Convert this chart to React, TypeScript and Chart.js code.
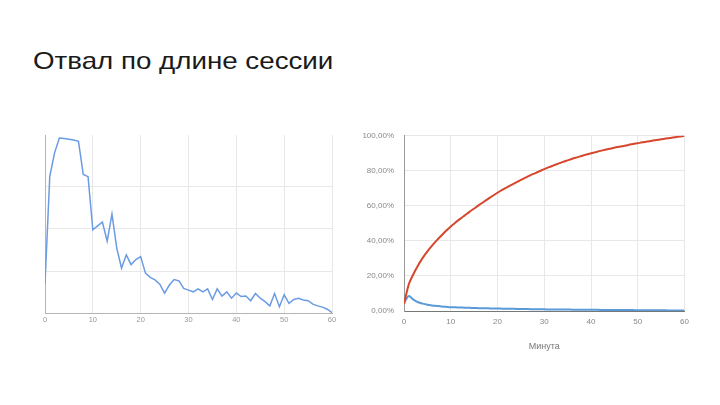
import React, { useEffect, useRef } from "react";
import { Chart, registerables } from "chart.js";

Chart.register(...registerables);

// minutes 0..60 (category positions)
const minutes = Array.from({ length: 61 }, (_, i) => i);

// left chart: sessions ending at each minute (unlabelled axis)
const leftCounts = [
  70, 323, 378, 413, 412, 410, 408, 405, 327, 322,
  197, 206, 215, 170, 234, 154, 107, 138, 115, 127,
  134, 95, 85, 79, 69, 48, 67, 80, 77, 59,
  55, 51, 58, 51, 58, 33, 58, 41, 51, 36,
  48, 40, 41, 30, 47, 36, 28, 18, 47, 16,
  44, 24, 33, 36, 32, 30, 22, 18, 15, 10,
  2,
];

// right chart: cumulative share (red), per-minute share (blue), in %
const cumulativeShare = [
  4.0, 15.0, 21.0, 26.0, 30.3, 34.0, 37.3, 40.3, 43.1, 45.8,
  48.3, 50.5, 52.6, 54.6, 56.6, 58.5, 60.4, 62.2, 64.0, 65.8,
  67.5, 69.1, 70.6, 72.0, 73.4, 74.8, 76.1, 77.4, 78.6, 79.8,
  81.0, 82.1, 83.1, 84.1, 85.1, 86.0, 86.9, 87.7, 88.5, 89.3,
  90.0, 90.7, 91.4, 92.0, 92.6, 93.2, 93.7, 94.2, 94.8, 95.3,
  95.8, 96.3, 96.7, 97.2, 97.6, 98.0, 98.4, 98.8, 99.2, 99.6,
  100.0,
];
const minuteShare = [
  4.5, 8.5, 6.5, 5.0, 4.2, 3.6, 3.2, 2.9, 2.6, 2.4,
  2.2, 2.1, 2.0, 1.9, 1.8, 1.7, 1.6, 1.55, 1.5, 1.45,
  1.4, 1.35, 1.3, 1.25, 1.2, 1.15, 1.1, 1.05, 1.0, 0.97,
  0.94, 0.91, 0.88, 0.85, 0.82, 0.8, 0.77, 0.74, 0.72, 0.7,
  0.68, 0.66, 0.64, 0.62, 0.6, 0.58, 0.56, 0.54, 0.52, 0.5,
  0.48, 0.46, 0.44, 0.42, 0.4, 0.38, 0.36, 0.34, 0.32, 0.3,
  0.28,
];

const xTickValues = [0, 10, 20, 30, 40, 50, 60];
const leftGridValues = [0, 100, 200, 300];
const pctTickValues = [0, 20, 40, 60, 80, 100];

const FONT = "'Liberation Sans', Arial, sans-serif";
const GRID = "#e8e8e8";

const toPoints = (ys: number[]) => ys.map((y, i) => ({ x: minutes[i], y }));

function LeftChart() {
  const ref = useRef<HTMLCanvasElement>(null);

  useEffect(() => {
    if (!ref.current) return;
    const chart = new Chart(ref.current, {
      type: "line",
      data: {
        datasets: [
          {
            data: toPoints(leftCounts),
            borderColor: "#6b9be3",
            borderWidth: 1.5,
            pointRadius: 0,
            tension: 0,
          },
        ],
      },
      options: {
        responsive: true,
        maintainAspectRatio: false,
        animation: false,
        layout: { padding: { left: 5, right: 8, top: 5, bottom: 2.5 } },
        plugins: { legend: { display: false }, tooltip: { enabled: false } },
        scales: {
          x: {
            type: "linear",
            min: 0,
            max: 60,
            afterBuildTicks: (s: any) => {
              s.ticks = xTickValues.map((value) => ({ value }));
            },
            afterFit: (s: any) => {
              s.height = 14;
            },
            ticks: { font: { family: FONT, size: 7.5 }, color: "#999", padding: 2, maxRotation: 0 },
            grid: { color: GRID, drawTicks: false },
            border: { color: "#b5b5b5" },
          },
          y: {
            min: 0,
            max: 420,
            afterBuildTicks: (s: any) => {
              s.ticks = leftGridValues.map((value) => ({ value }));
            },
            ticks: { display: false },
            grid: { color: GRID, drawTicks: false },
            border: { color: "#b5b5b5" },
          },
        },
      },
    });
    return () => chart.destroy();
  }, []);

  return (
    <div style={{ position: "absolute", left: 40, top: 130, width: 300, height: 200 }}>
      <canvas ref={ref} />
    </div>
  );
}

function RightChart() {
  const ref = useRef<HTMLCanvasElement>(null);

  useEffect(() => {
    if (!ref.current) return;
    const chart = new Chart(ref.current, {
      type: "line",
      data: {
        datasets: [
          {
            data: toPoints(cumulativeShare),
            borderColor: "#d6462d",
            borderWidth: 2,
            pointRadius: 0,
            tension: 0.3,
          },
          {
            data: toPoints(minuteShare),
            borderColor: "#5b9ad8",
            borderWidth: 2,
            pointRadius: 0,
            tension: 0.3,
          },
        ],
      },
      options: {
        responsive: true,
        maintainAspectRatio: false,
        animation: false,
        layout: { padding: { left: 0, right: 8, top: 0, bottom: 0 } },
        plugins: { legend: { display: false }, tooltip: { enabled: false } },
        scales: {
          x: {
            type: "linear",
            min: 0,
            max: 60,
            afterBuildTicks: (s: any) => {
              s.ticks = xTickValues.map((value) => ({ value }));
            },
            afterFit: (s: any) => {
              s.height = 49;
            },
            ticks: { font: { family: FONT, size: 8 }, color: "#888", padding: 6, maxRotation: 0 },
            grid: { color: GRID, drawTicks: false },
            border: { color: "#777" },
            title: {
              display: true,
              text: "Минута",
              font: { family: FONT, size: 9 },
              color: "#777",
              padding: { top: 0, bottom: 8 },
            },
          },
          y: {
            min: 0,
            max: 100,
            afterBuildTicks: (s: any) => {
              s.ticks = pctTickValues.map((value) => ({ value }));
            },
            afterFit: (s: any) => {
              s.width = 49;
            },
            ticks: {
              font: { family: FONT, size: 8 },
              color: "#888",
              padding: 10,
              callback: (v: any) => Number(v).toFixed(2).replace(".", ",") + "%",
            },
            grid: { color: GRID, drawTicks: false },
            border: { color: "#999" },
          },
        },
      },
    });
    return () => chart.destroy();
  }, []);

  return (
    <div style={{ position: "absolute", left: 355, top: 121, width: 340, height: 239 }}>
      <canvas ref={ref} />
    </div>
  );
}

export default function App() {
  return (
    <div
      style={{
        position: "fixed",
        left: 0,
        top: 0,
        width: 720,
        height: 405,
        background: "#fff",
        overflow: "hidden",
      }}
    >
      <div
        style={{
          position: "absolute",
          left: 33,
          top: 49,
          fontFamily: FONT,
          fontSize: 24,
          lineHeight: "24px",
          color: "#1a1a1a",
          whiteSpace: "nowrap",
          transform: "scaleX(1.155)",
          transformOrigin: "left center",
        }}
      >
        Отвал по длине сессии
      </div>
      <LeftChart />
      <RightChart />
    </div>
  );
}
